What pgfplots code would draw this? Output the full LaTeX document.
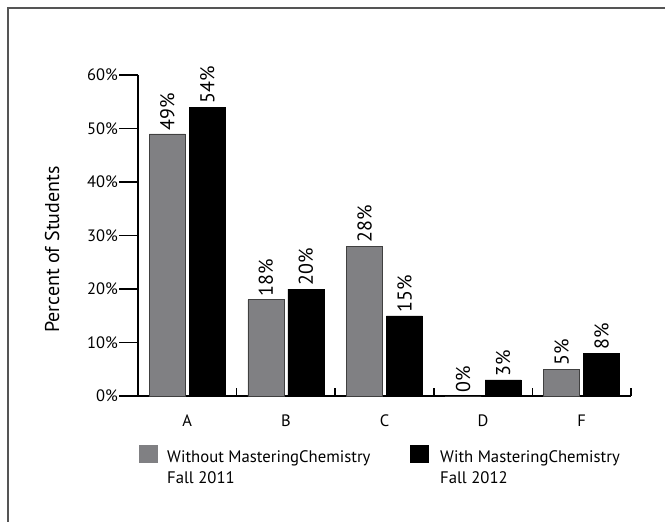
\documentclass[border=0pt]{standalone}
\usepackage{pgfplots}
\pgfplotsset{compat=1.18}
\usepackage{fontspec}
\setmainfont{PT Sans}
\definecolor{barGray}{RGB}{128,128,131}
\definecolor{frameGray}{RGB}{85,85,85}

\begin{document}
\begin{tikzpicture}[x=1pt,y=1pt]
\path[use as bounding box] (0,0) rectangle (665,-522);
% frame (only left and top edges are visible)
\draw[frameGray, line width=1.6pt] (8,-522) -- (8,-8) -- (665,-8);
\begin{axis}[
    at={(138pt,-396pt)}, anchor=south west,
    scale only axis, width=493pt, height=321pt,
    xmin=-0.5, xmax=4.5, ymin=0, ymax=60,
    axis lines*=left,
    axis line style={line width=1.5pt},
    clip=false,
    ybar, bar width=36pt,
    /pgf/number format/assume math mode=true,
    xtick={0,...,4}, xticklabels={A,B,C,D,F},
    xtick style={draw=none},
    x tick label style={font=\fontsize{16.5}{18}\selectfont, yshift=4pt},
    ytick={0,10,...,60},
    yticklabel={\pgfmathprintnumber{\tick}\%},
    y tick label style={font=\fontsize{16.5}{18}\selectfont, inner xsep=1pt},
    ytick style={line width=1.5pt, black},
    tick align=outside, major tick length=19pt,
    ylabel={Percent of Students},
    ylabel style={at={(axis description cs:-0.174,0.456)}, anchor=center,
        font=\fontsize{20}{22}\selectfont},
    nodes near coords={\pgfmathprintnumber{\pgfplotspointmeta}\%},
    every node near coord/.append style={rotate=90, anchor=west, text=black,
        font=\fontsize{20}{20}\selectfont},
]
\addplot[fill=barGray, draw=black!75, line width=0.6pt, bar shift=-20pt]
    coordinates {(0,49) (1,18) (2,28) (3,0) (4,5)};
\addplot[fill=black, draw=black, bar shift=20pt]
    coordinates {(0,54) (1,20) (2,15) (3,3) (4,8)};
% category boundary ticks pointing up
\pgfplotsinvokeforeach{-0.5,0.5,1.5,2.5,3.5,4.5}{
    \draw[line width=1.5pt] (axis cs:#1,0) -- ++(0pt,8pt);
}
\end{axis}
% legend
\fill[barGray] (139,-445) rectangle (158,-463);
\node[anchor=base west, inner sep=0, font=\fontsize{16.7}{18}\selectfont] at (167,-462) {Without MasteringChemistry};
\node[anchor=base west, inner sep=0, font=\fontsize{16.7}{18}\selectfont] at (167,-483) {Fall 2011};
\fill[black] (410,-445) rectangle (429,-463);
\node[anchor=base west, inner sep=0, font=\fontsize{16.7}{18}\selectfont] at (440,-462) {With MasteringChemistry};
\node[anchor=base west, inner sep=0, font=\fontsize{16.7}{18}\selectfont] at (440,-483) {Fall 2012};
\end{tikzpicture}
\end{document}
